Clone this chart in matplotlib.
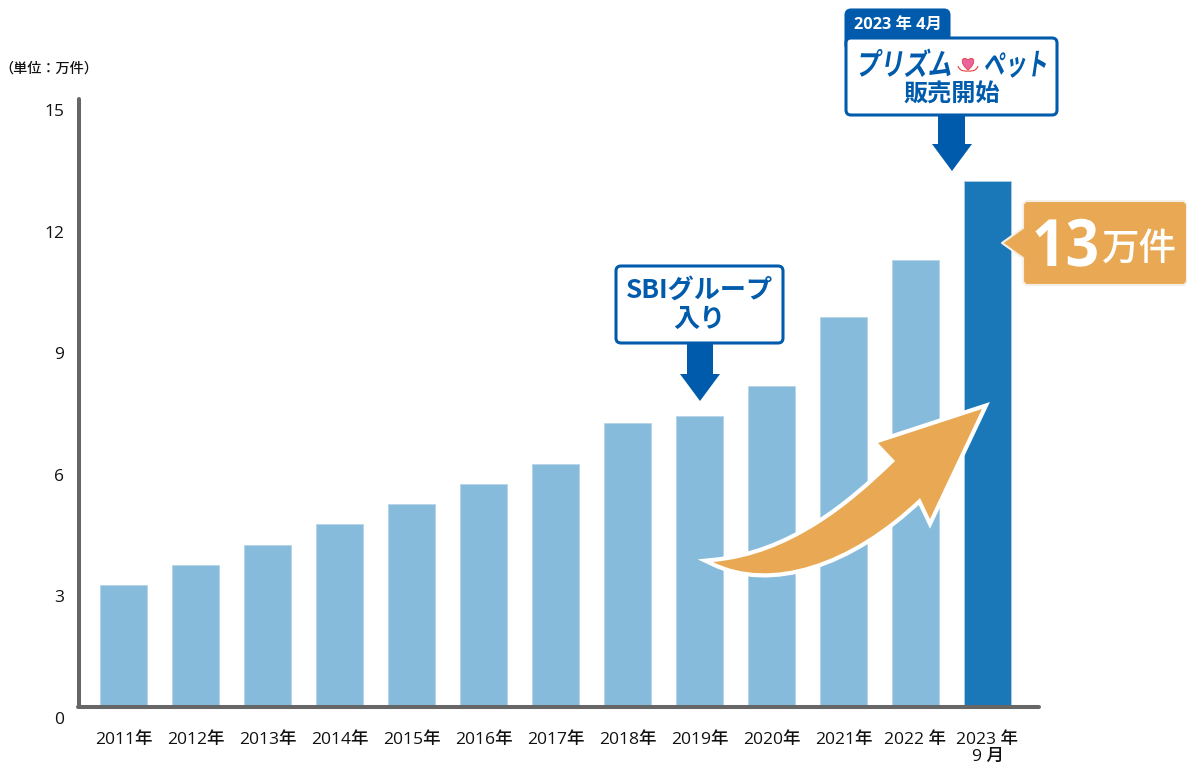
import matplotlib
matplotlib.use("Agg")
import matplotlib.pyplot as plt
from matplotlib.path import Path
from matplotlib.patches import PathPatch, FancyBboxPatch, Polygon
from matplotlib.patheffects import AbstractPathEffect
from matplotlib.transforms import ScaledTranslation, Affine2D

FONT = ['Open Sans', 'Noto Sans CJK JP', 'DejaVu Sans']
plt.rcParams['font.family'] = ['Noto Sans CJK JP', 'DejaVu Sans']

years = ['2011年', '2012年', '2013年', '2014年', '2015年', '2016年', '2017年',
         '2018年', '2019年', '2020年', '2021年', '2022 年', '2023 年\n9 月']
values = [2.98, 3.48, 3.98, 4.48, 4.98, 5.48, 5.98, 6.98, 7.16, 7.9, 9.6, 11.0, 12.96]
y_ticks = [0, 3, 6, 9, 12, 15]

LIGHT, DARK = '#86BBDB', '#1B78B8'
BLUE, ORANGE = '#005BAC', '#E9A954'
AXIS = '#666666'
INK = '#111111'
W, H = 1187, 767


class Oblique(AbstractPathEffect):
    """Draw text narrowed and slanted, as in the logotype."""
    def __init__(self, sx, skew):
        super().__init__()
        self.sx, self.skew = sx, skew

    def draw_path(self, renderer, gc, tpath, affine, rgbFace):
        t = Affine2D().skew_deg(self.skew, 0).scale(self.sx, 1) + affine
        renderer.draw_path(gc, tpath, t, rgbFace)


fig = plt.figure(figsize=(W / 100, H / 100), dpi=100, facecolor='white')
# main axes: pixel box x 78..1040, y 98..706
ax = fig.add_axes([78 / W, 1 - 706 / H, (1040 - 78) / W, (706 - 98) / H])
for s in ['top', 'right']:
    ax.spines[s].set_visible(False)
for s in ['left', 'bottom']:
    ax.spines[s].set_color(AXIS)
    ax.spines[s].set_linewidth(2.9)
    ax.spines[s].set_capstyle('round')
    ax.spines[s].set_zorder(3)
ax.spines['left'].set_position(('outward', -0.4))
ax.spines['bottom'].set_position(('outward', 0.7))

xs = list(range(len(years)))
colors = [LIGHT] * (len(years) - 1) + [DARK]
ax.bar(xs, values, width=47 / 72, color=colors, edgecolor='#B5D3E6', linewidth=0.5, zorder=2)
ax.set_xlim((78 - 123.5) / 72, (1040 - 123.5) / 72)
ax.set_ylim(0, 15)
ax.spines['left'].set_bounds(0, 14.97)
ax.spines['bottom'].set_bounds(ax.get_xlim()[0], ax.get_xlim()[1] - 0.02)
ax.set_yticks(y_ticks)
ax.set_xticks(xs)
ax.set_xticklabels(years, fontsize=12.6, linespacing=1.05, color=INK, va='top', family=FONT, fontweight='medium')
ax.tick_params(axis='both', length=0)
ax.tick_params(axis='x', pad=18)
ax.tick_params(axis='y', pad=10.5, labelsize=12.5, labelcolor=INK)
off = ScaledTranslation(0, -12 / 100, fig.dpi_scale_trans)
for lab in ax.get_yticklabels():
    lab.set_transform(lab.get_transform() + off)
    lab.set_family(FONT)

# overlay in pixel coordinates for the callouts
ov = fig.add_axes([0, 0, 1, 1], facecolor='none')
ov.set_xlim(0, W)
ov.set_ylim(H, 0)
ov.axis('off')


def box(x0, y0, x1, y1, fc, ec, lw=2.2, r=5, z=5):
    ov.add_patch(FancyBboxPatch((x0 + r, y0 + r), x1 - x0 - 2 * r, y1 - y0 - 2 * r,
                                boxstyle=f'round,pad={r},rounding_size={r}',
                                fc=fc, ec=ec, lw=lw, zorder=z, joinstyle='round'))


def down_arrow(x0, x1, hx0, hx1, y0, y1, tip):
    cx = (hx0 + hx1) / 2
    ov.add_patch(Polygon([(x0, y0), (x1, y0), (x1, y1), (hx1, y1), (cx, tip), (hx0, y1), (x0, y1)],
                         closed=True, fc=BLUE, ec='none', zorder=4))


# SBI callout
box(616, 266, 783, 343, 'white', BLUE)
down_arrow(687, 713, 680, 720, 343, 374, 401)
ov.text(699, 290, 'SBIグループ', color=BLUE, fontsize=18.8, fontweight='bold', ha='center', va='center', zorder=6)
ov.text(699, 319, '入り', color=BLUE, fontsize=18.8, fontweight='bold', ha='center', va='center', zorder=6)

# Prism pet callout
box(846, 10, 949, 50, BLUE, BLUE)
box(846, 38, 1057, 115, 'white', BLUE)
down_arrow(938, 965, 932, 972, 115, 144, 171)
ov.text(898, 25, '2023 年 4月', color='white', fontsize=11.8, fontweight='bold', ha='center', va='center',
        zorder=6, family=FONT)
t1 = ov.text(855, 75, 'プリズム', color=BLUE, fontsize=22, fontweight='bold', ha='left', va='baseline', zorder=6)
t1.set_path_effects([Oblique(0.79, 12)])
t2 = ov.text(983, 75, 'ペット', color=BLUE, fontsize=22, fontweight='bold', ha='left', va='baseline', zorder=6)
t2.set_path_effects([Oblique(0.70, 12)])
ov.text(952, 95, '販売開始', color=BLUE, fontsize=17.4, fontweight='bold', ha='center', va='center', zorder=6)
hx, hy = 968, 63
heart = Path([(hx, hy + 7), (hx - 10, hy - 1), (hx - 5, hy - 8), (hx, hy - 3),
              (hx + 5, hy - 8), (hx + 10, hy - 1), (hx, hy + 7)],
             [Path.MOVETO, Path.CURVE4, Path.CURVE4, Path.CURVE4, Path.CURVE4, Path.CURVE4, Path.CURVE4])
ov.add_patch(PathPatch(heart, fc='#E9649F', ec='#E2403F', lw=0.6, zorder=6))
swirl = Path([(958, 66), (960, 72), (966, 71), (968, 71), (970, 71), (976, 72), (978, 66)],
             [Path.MOVETO, Path.CURVE4, Path.CURVE4, Path.CURVE4, Path.CURVE4, Path.CURVE4, Path.CURVE4])
ov.add_patch(PathPatch(swirl, fc='none', ec='#E2403F', lw=0.8, zorder=6))

# 13 label
lab = Polygon([(1002, 243), (1023, 228), (1023, 204), (1026, 201), (1184, 201), (1187, 204),
               (1187, 282), (1184, 285), (1026, 285), (1023, 282), (1023, 258)],
              closed=True, fc=ORANGE, ec='#F4F0E8', lw=1.5, joinstyle='round', zorder=5)
ov.add_patch(lab)
t13 = ov.text(1032, 266, '13', color='white', fontsize=47, fontweight='bold', ha='left', va='baseline', zorder=6,
              family=['Open Sans', 'Noto Sans CJK JP'])
t13.set_path_effects([Oblique(0.9, 0)])
ov.text(1139, 249, '万件', color='white', fontsize=27, fontweight='medium', ha='center', va='center', zorder=6)

# curved growth arrow
verts = [(713, 562), (770, 590), (850, 565), (920, 498), (930, 519), (982, 409), (878, 443), (895, 461),
         (850, 505), (790, 555), (713, 562), (713, 562)]
codes = [Path.MOVETO, Path.CURVE4, Path.CURVE4, Path.CURVE4, Path.LINETO, Path.LINETO, Path.LINETO, Path.LINETO,
         Path.CURVE4, Path.CURVE4, Path.CURVE4, Path.CLOSEPOLY]
ov.add_patch(PathPatch(Path(verts, codes), fc=ORANGE, ec='white', lw=6, joinstyle='miter', zorder=4))
ov.add_patch(PathPatch(Path(verts, codes), fc=ORANGE, ec='none', zorder=5))

# unit
ov.text(49, 69, '（単位：万件）', color=INK, fontsize=10.2, fontweight='medium', ha='center', va='center', zorder=6)

fig.savefig('out.png', dpi=100)
